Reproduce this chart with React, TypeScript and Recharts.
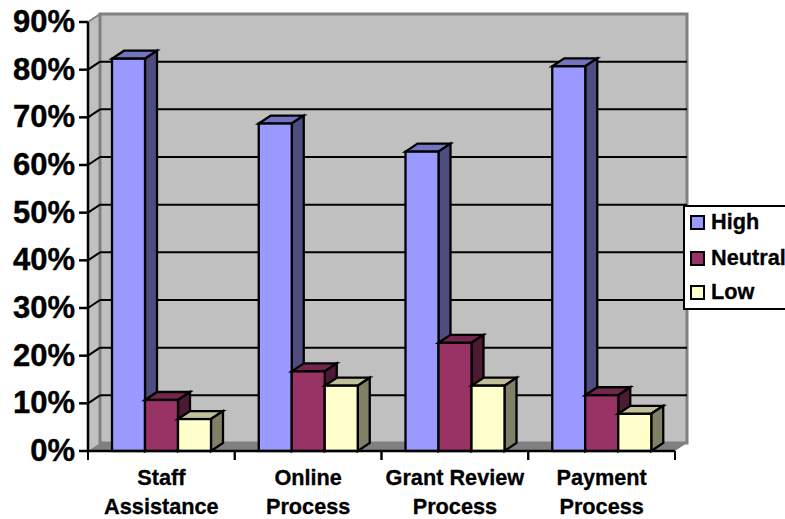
import { BarChart, Bar, XAxis, YAxis, CartesianGrid, Legend } from "recharts"

const categories = ["Staff Assistance", "Online Process", "Grant Review Process", "Payment Process"]
const high = [82.3, 68.7, 62.8, 80.7]
const neutral = [10.7, 16.7, 22.7, 11.7]
const low = [6.7, 13.7, 13.7, 7.8]
const yTicks = [0, 10, 20, 30, 40, 50, 60, 70, 80, 90]

const data = categories.map((name, i) => ({ name, High: high[i], Neutral: neutral[i], Low: low[i] }))

const FONT = "'Liberation Sans', Arial, sans-serif"
const W = 785
const H = 519
const LEFT = 88
const RIGHT = 675
const TOP = 22
const BOTTOM = 451
const DX = 12
const DY = 8

const shades: Record<string, { top: string; side: string }> = {
  "#9999FF": { top: "#7373BF", side: "#4D4D80" },
  "#993366": { top: "#73264D", side: "#4D1A33" },
  "#FFFFCC": { top: "#BFBF99", side: "#808066" },
}

const Bar3D = (props: any) => {
  const { x, y, width, height, fill } = props
  const c = shades[fill]
  const r = x + width
  const b = y + height
  return (
    <g stroke="#000" strokeWidth={2.3} strokeLinejoin="miter">
      <polygon points={`${x},${y} ${x + DX},${y - DY} ${r + DX},${y - DY} ${r},${y}`} fill={c.top} />
      <polygon points={`${r},${y} ${r + DX},${y - DY} ${r + DX},${b - DY} ${r},${b}`} fill={c.side} />
      <rect x={x} y={y} width={width} height={height} fill={fill} />
    </g>
  )
}

// walls and floor behind the grid
const Walls = () => (
  <g>
    <polygon
      points={`${LEFT},${TOP} ${LEFT + DX},${TOP - DY} ${LEFT + DX},${BOTTOM - DY} ${LEFT},${BOTTOM}`}
      fill="#C0C0C0"
    />
    <rect x={LEFT + DX} y={TOP - DY} width={RIGHT - LEFT} height={BOTTOM - TOP} fill="#C0C0C0" stroke="#808080" strokeWidth={3} />
    <line x1={LEFT} y1={TOP} x2={LEFT + DX} y2={TOP - DY} stroke="#808080" strokeWidth={2} />
    <polygon
      points={`${LEFT},${BOTTOM} ${LEFT + DX},${BOTTOM - DY} ${RIGHT + DX},${BOTTOM - DY} ${RIGHT},${BOTTOM}`}
      fill="#808080"
    />
  </g>
)

// the grid sits on the back wall, so it is shifted by the depth; the first line also paints the walls
const GridLine = (props: any) => {
  const { y1, index } = props
  const inner = y1 < BOTTOM - 1 && y1 > TOP + 1
  return (
    <g key={index}>
      {index === 0 && <Walls />}
      {inner && (
        <g stroke="#000" strokeWidth={2}>
          <line x1={LEFT} y1={y1} x2={LEFT + DX} y2={y1 - DY} />
          <line x1={LEFT + DX} y1={y1 - DY} x2={RIGHT + DX} y2={y1 - DY} />
        </g>
      )}
    </g>
  )
}

const CategoryTick = (props: any) => {
  const { x, y, payload } = props
  const words = String(payload.value).split(" ")
  const last = words.pop()
  const step = (RIGHT - LEFT) / categories.length
  return (
    <g>
      <line x1={x - step / 2} y1={BOTTOM} x2={x - step / 2} y2={BOTTOM + 9} stroke="#000" strokeWidth={2} />
      <line x1={x + step / 2} y1={BOTTOM} x2={x + step / 2} y2={BOTTOM + 9} stroke="#000" strokeWidth={2} />
      <text x={x} y={y} textAnchor="middle" fontFamily={FONT} fontWeight="bold" fontSize={21.7} fill="#000" stroke="#000" strokeWidth={0.3}>
        <tspan x={x} y={BOTTOM + 34}>{words.join(" ")}</tspan>
        <tspan x={x} y={BOTTOM + 63}>{last}</tspan>
      </text>
    </g>
  )
}

const LegendBox = ({ payload }: any) => (
  <div
    style={{
      boxSizing: "border-box",
      width: 110,
      height: 105,
      background: "#fff",
      border: "2px solid #000",
      fontFamily: FONT,
      fontWeight: "bold",
      fontSize: 21.7,
      color: "#000",
      WebkitTextStroke: "0.3px #000",
    }}
  >
    {(payload || []).map((p: any, i: number) => (
      <div key={p.value} style={{ position: "absolute", left: 7, top: [9, 45, 79][i], height: 16, display: "flex", alignItems: "center", whiteSpace: "nowrap" }}>
        <span style={{ boxSizing: "border-box", width: 15, height: 15, background: p.color, border: "2px solid #000", marginRight: 6 }} />
        {p.value}
      </div>
    ))}
  </div>
)

export default function App() {
  return (
    <div style={{ position: "absolute", left: 0, top: 0, width: W, height: H, overflow: "hidden" }}>
      <BarChart
        width={W}
        height={H}
        data={data}
        margin={{ left: 0, right: W - RIGHT, top: TOP, bottom: 0 }}
        barCategoryGap={24}
        barGap={0}
      >
        <CartesianGrid vertical={false} horizontal={GridLine} syncWithTicks />
        <XAxis
          dataKey="name"
          height={H - BOTTOM}
          interval={0}
          tickLine={false}
          axisLine={{ stroke: "#000", strokeWidth: 2.5 }}
          tick={CategoryTick}
        />
        <YAxis
          width={LEFT}
          domain={[0, 90]}
          ticks={yTicks}
          interval={0}
          tickSize={9}
          tickMargin={4}
          tickFormatter={(v: number) => `${v}%`}
          tickLine={{ stroke: "#000", strokeWidth: 2.5 }}
          axisLine={{ stroke: "#000", strokeWidth: 2.5 }}
          tick={{ fill: "#000", stroke: "#000", strokeWidth: 0.4, fontFamily: FONT, fontWeight: "bold", fontSize: 31, dy: -1 }}
        />
        <Legend
          layout="horizontal"
          align="center"
          verticalAlign="middle"
          content={LegendBox}
          itemSorter={null}
          wrapperStyle={{ position: "absolute", left: 683, top: 205, width: 110, height: 105 }}
        />
        <Bar dataKey="High" fill="#9999FF" shape={Bar3D} isAnimationActive={false} />
        <Bar dataKey="Neutral" fill="#993366" shape={Bar3D} isAnimationActive={false} />
        <Bar dataKey="Low" fill="#FFFFCC" shape={Bar3D} isAnimationActive={false} />
      </BarChart>
    </div>
  )
}
